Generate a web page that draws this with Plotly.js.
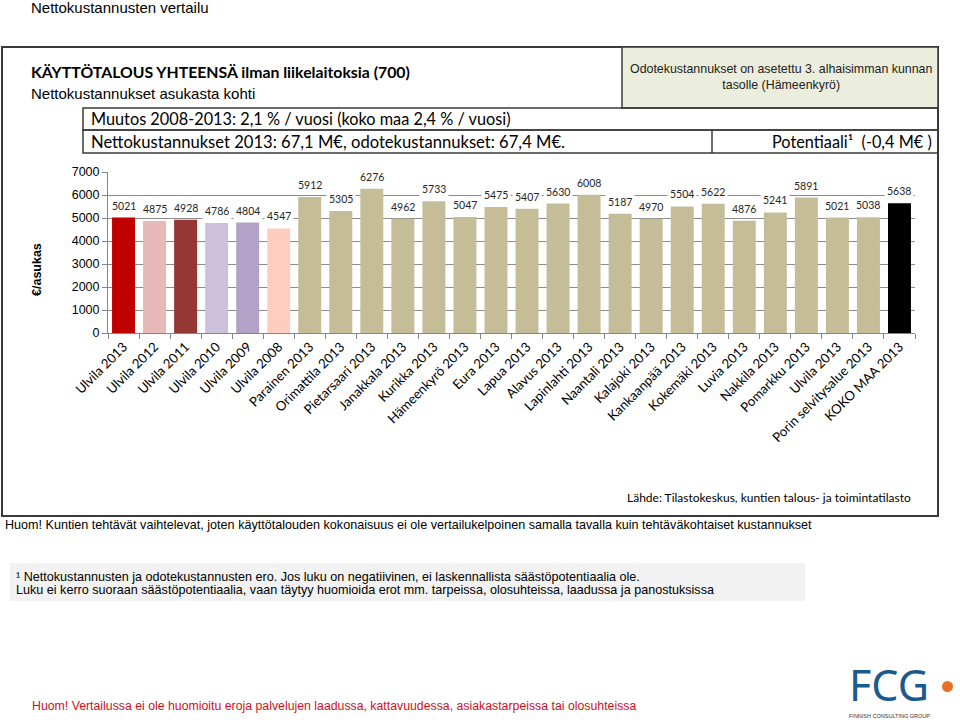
<!DOCTYPE html>
<html>
<head>
<meta charset="utf-8">
<script src="https://cdn.plot.ly/plotly-3.0.1.min.js"></script>
<style>html,body{margin:0;padding:0;background:#fff;}#chart{width:960px;height:720px;}</style>
</head>
<body>
<div id="chart"></div>
<script>
// ---- data ----
const categories = ["Ulvila 2013","Ulvila 2012","Ulvila 2011","Ulvila 2010","Ulvila 2009","Ulvila 2008",
  "Parainen 2013","Orimattila 2013","Pietarsaari 2013","Janakkala 2013","Kurikka 2013","Hämeenkyrö 2013",
  "Eura 2013","Lapua 2013","Alavus 2013","Lapinlahti 2013","Naantali 2013","Kalajoki 2013","Kankaanpää 2013",
  "Kokemäki 2013","Luvia 2013","Nakkila 2013","Pomarkku 2013","Ulvila 2013","Porin selvitysalue 2013","KOKO MAA 2013"];
const values = [5021,4875,4928,4786,4804,4547,5912,5305,6276,4962,5733,5047,5475,5407,5630,6008,5187,4970,5504,5622,4876,5241,5891,5021,5038,5638];
const barColors = ["#c00000","#e6b9b8","#953735","#ccc1da","#b3a2c7","#ffccc0",
  "#c4bd97","#c4bd97","#c4bd97","#c4bd97","#c4bd97","#c4bd97","#c4bd97","#c4bd97","#c4bd97","#c4bd97",
  "#c4bd97","#c4bd97","#c4bd97","#c4bd97","#c4bd97","#c4bd97","#c4bd97","#c4bd97","#c4bd97","#000000"];
const yTicks = [0,1000,2000,3000,4000,5000,6000,7000];

// ---- geometry helpers (pixel -> paper) ----
const W = 960, H = 720;
const P = x => x / W;
const Q = y => 1 - y / H;

const idx = categories.map((c, i) => i);

const traces = [{
  type: 'bar',
  x: idx,
  y: values,
  marker: {color: barColors},
  width: 0.74,
  hoverinfo: 'skip',
  xaxis: 'x', yaxis: 'y'
}, {
  type: 'scatter', mode: 'markers', x: [-0.5, categories.length - 0.5], y: [0, 0],
  marker: {opacity: 0}, xaxis: 'x2', yaxis: 'y', hoverinfo: 'skip', showlegend: false
}];

const annotations = [];
values.forEach((v, i) => {
  annotations.push({
    xref: 'x', yref: 'y', x: i, y: v, yanchor: 'bottom', yshift: 3,
    text: String(v), showarrow: false, bgcolor: '#ffffff', borderpad: 2,
    font: {family: 'Lato, sans-serif', size: 10.5, color: '#262626'}
  });
});

function txt(x, y, text, opts) {
  annotations.push(Object.assign({
    xref: 'paper', yref: 'paper', x: P(x), y: Q(y), text: text, showarrow: false,
    xanchor: 'left', yanchor: 'middle',
    font: {family: 'Arial, Liberation Sans, sans-serif', size: 12, color: '#000'}
  }, opts || {}));
}

txt(29, 8, 'Nettokustannusten vertailu', {font: {family: 'Arial, Liberation Sans, sans-serif', size: 15, color: '#000'}});
txt(29, 72, '<b>KÄYTTÖTALOUS YHTEENSÄ ilman liikelaitoksia (700)</b>', {font: {family: 'Lato, sans-serif', size: 15.8, color: '#000'}});
txt(29, 94, 'Nettokustannukset asukasta kohti', {font: {family: 'Arial, Liberation Sans, sans-serif', size: 15, color: '#000'}});
txt(89, 119, 'Muutos 2008-2013: 2,1 % / vuosi (koko maa 2,4 % / vuosi)', {font: {family: 'Lato, sans-serif', size: 16.3, color: '#000'}});
txt(89, 142, 'Nettokustannukset 2013: 67,1 M€, odotekustannukset: 67,4 M€.', {font: {family: 'Lato, sans-serif', size: 16.6, color: '#000'}});
txt(934, 142, 'Potentiaali¹  (-0,4 M€ )', {xanchor: 'right', font: {family: 'Lato, sans-serif', size: 16.3, color: '#000'}});
txt(781, 77, 'Odotekustannukset on asetettu 3. alhaisimman kunnan<br>tasolle (Hämeenkyrö)', {xanchor: 'center', align: 'center', font: {family: 'Arial, Liberation Sans, sans-serif', size: 12.4, color: '#222'}});
txt(913, 497, 'Lähde: Tilastokeskus, kuntien talous- ja toimintatilasto', {xanchor: 'right', font: {family: 'Lato, sans-serif', size: 12, color: '#000'}});
txt(3, 525, 'Huom! Kuntien tehtävät vaihtelevat, joten käyttötalouden kokonaisuus ei ole vertailukelpoinen samalla tavalla kuin tehtäväkohtaiset kustannukset', {font: {family: 'Arial, Liberation Sans, sans-serif', size: 12.6, color: '#000'}});
txt(14, 577, '¹ Nettokustannusten ja odotekustannusten ero. Jos luku on negatiivinen, ei laskennallista säästöpotentiaalia ole.', {font: {family: 'Arial, Liberation Sans, sans-serif', size: 12.6, color: '#000'}});
txt(14, 590, 'Luku ei kerro suoraan säästöpotentiaalia, vaan täytyy huomioida erot mm. tarpeissa, olosuhteissa, laadussa ja panostuksissa', {font: {family: 'Arial, Liberation Sans, sans-serif', size: 12.6, color: '#000'}});
txt(30, 706, 'Huom! Vertailussa ei ole huomioitu eroja palvelujen laadussa, kattavuudessa, asiakastarpeissa tai olosuhteissa', {font: {family: 'Arial, Liberation Sans, sans-serif', size: 12.3, color: '#d0101c'}});
txt(37, 270, '<b>€/asukas</b>', {xanchor: 'center', textangle: -90, font: {family: 'Arial, Liberation Sans, sans-serif', size: 12.5, color: '#000'}});
txt(889, 684, 'FCG', {xanchor: 'center', font: {family: 'Noto Sans, Open Sans, sans-serif', size: 43, color: '#1b5a8e'}});
txt(889, 716, 'FINNISH CONSULTING GROUP', {xanchor: 'center', font: {family: 'Arial, sans-serif', size: 5.5, color: '#333'}});

const shapes = [];
function rect(x0, y0, x1, y1, opts) {
  shapes.push(Object.assign({type: 'rect', xref: 'paper', yref: 'paper', x0: P(x0), y0: Q(y0), x1: P(x1), y1: Q(y1),
    line: {color: '#3a3a3a', width: 1.5}, layer: 'below'}, opts || {}));
}
rect(10, 563, 805, 601, {fillcolor: '#f2f2f2', line: {width: 0}});
rect(2, 47, 938, 516, {line: {color: '#3a3a3a', width: 2}});
rect(622, 47, 938, 108, {fillcolor: '#ebeedd'});
rect(83, 108, 938, 130);
rect(83, 130, 938, 153);
shapes.push({type: 'line', xref: 'paper', yref: 'paper', x0: P(712), x1: P(712), y0: Q(130), y1: Q(153), line: {color: '#3a3a3a', width: 1.5}});
shapes.push({type: 'circle', xref: 'paper', yref: 'paper', x0: P(942), x1: P(953), y0: Q(681), y1: Q(692), fillcolor: '#e8702a', line: {width: 0}});

const layout = {
  width: W, height: H,
  margin: {l: 0, r: 0, t: 0, b: 0},
  paper_bgcolor: '#ffffff', plot_bgcolor: 'rgba(0,0,0,0)',
  showlegend: false,
  bargap: 0.26,
  xaxis: {
    domain: [P(108), P(915)], range: [-0.5, categories.length - 0.5],
    tickmode: 'array', tickvals: idx, ticktext: categories, tickangle: -45,
    tickfont: {family: 'Lato, sans-serif', size: 13.2, color: '#000'},
    ticks: '', showgrid: false, zeroline: false,
    showline: true, linecolor: '#868686', linewidth: 1, fixedrange: true
  },
  xaxis2: {
    overlaying: 'x', domain: [P(108), P(915)], range: [-0.5, categories.length - 0.5],
    tickmode: 'array', tickvals: idx.concat([categories.length]).map(i => i - 0.5),
    ticks: 'outside', ticklen: 5, tickcolor: '#868686', showticklabels: false,
    showgrid: false, zeroline: false, showline: false, anchor: 'y'
  },
  yaxis: {
    domain: [Q(333), Q(172)], range: [0, 7000],
    tickmode: 'array', tickvals: yTicks, ticktext: yTicks.map(String),
    tickfont: {family: 'Arial, Liberation Sans, sans-serif', size: 12.5, color: '#000'},
    ticks: 'outside', ticklen: 5, tickcolor: '#868686',
    showgrid: true, gridcolor: '#8c8c8c', gridwidth: 1, zeroline: false,
    showline: true, linecolor: '#868686', linewidth: 1, fixedrange: true
  },
  annotations: annotations,
  shapes: shapes
};

Plotly.newPlot('chart', traces, layout, {staticPlot: true, displayModeBar: false});
</script>
</body>
</html>
